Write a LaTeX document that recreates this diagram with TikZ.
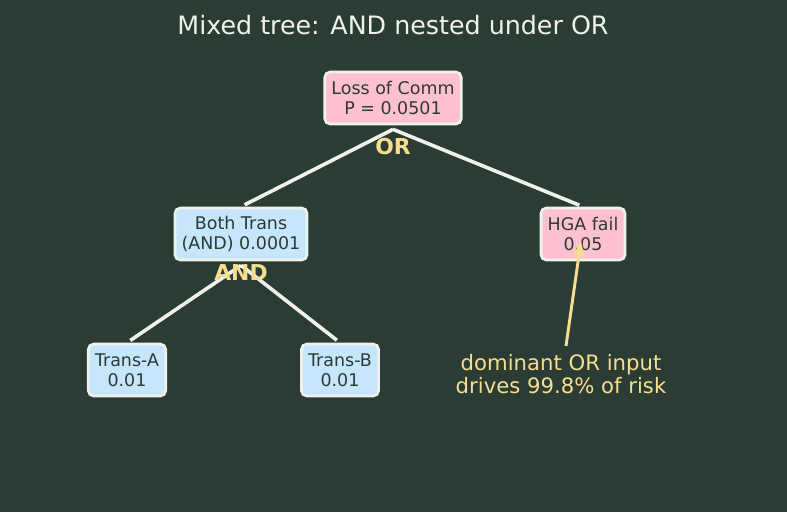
\documentclass[tikz,border=0pt]{standalone}
\usepackage{fontspec}
\setmainfont{DejaVu Sans}
\usetikzlibrary{arrows.meta}

\definecolor{bgdark}{HTML}{2B3C34}
\definecolor{edgewhite}{HTML}{EEF2EA}
\definecolor{orpink}{HTML}{FFC1CF}
\definecolor{andblue}{HTML}{C6E6FB}
\definecolor{gateyellow}{HTML}{F7DE8E}
\definecolor{boxtext}{HTML}{2B3A36}

\begin{document}
\begin{tikzpicture}[x=0.75pt, y=-0.75pt, >=Stealth,
	every event/.style={draw=edgewhite, line width=2pt, rounded corners=4pt,
		minimum height=39pt, inner xsep=5pt, align=center, text=boxtext,
		font=\fontsize{13.1}{15}\selectfont},
	event or/.style={every event, fill=orpink},
	event and/.style={every event, fill=andblue},
	branch/.style={draw=edgewhite, line width=2.7pt, shorten >=3pt},
	gate/.style={text=gateyellow, font=\fontsize{16.4}{19}\selectfont\bfseries}]

% background and frame
\fill[bgdark] (0,0) rectangle (787,512);
\useasboundingbox (0,0) rectangle (787,512);

\node[text=edgewhite, font=\fontsize{19}{23}\selectfont] (title) at (393,25) {Mixed tree: AND nested under OR};

% events
\node[event or] (top) at (393,98) {Loss of Comm\\P = 0.0501};
\node[event and] (both) at (241,234) {Both Trans\\(AND) 0.0001};
\node[event or] (hga) at (583,234) {HGA fail\\0.05};
\foreach \l/\x in {A/127, B/340}
	\node[event and] (trans-\l) at (\x,370) {Trans-\l\\0.01};

% branches, all meeting just under the parent box
\foreach \c in {both, hga}
	\draw[branch] (top.south) ++(0,4) -- (\c.north);
\foreach \l in {A, B}
	\draw[branch] (both.south) ++(0,4) -- (trans-\l.north);

% gate labels
\node[gate] (or-gate) at (393,147) {OR};
\node[gate] (and-gate) at (241,273) {AND};

% annotation
\node[text=gateyellow, align=center, font=\fontsize{15.9}{17}\selectfont] (note) at (561,374) {dominant OR input\\drives 99.8\% of risk};
\coordinate (note-tail) at (566,346);
\coordinate (note-tip) at (581,241);
\draw[->, gateyellow, line width=2.2pt] (note-tail) -- (note-tip);

\end{tikzpicture}
\end{document}
